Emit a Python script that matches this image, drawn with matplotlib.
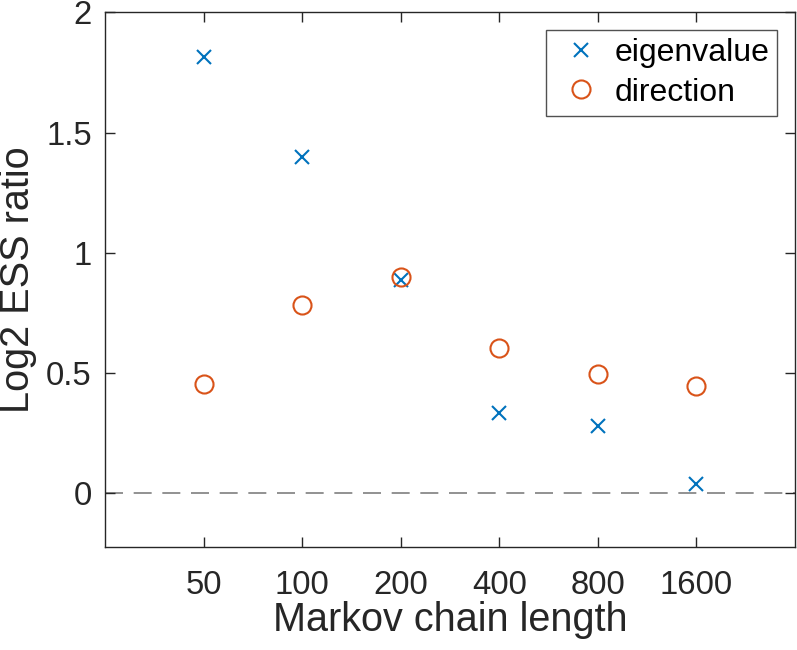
import matplotlib
matplotlib.use("Agg")
import matplotlib.pyplot as plt

plt.rcParams['font.family'] = ['Liberation Sans', 'DejaVu Sans']

chain_lengths = ["50", "100", "200", "400", "800", "1600"]
eigenvalue = [1.814, 1.398, 0.887, 0.334, 0.281, 0.039]
direction = [0.454, 0.783, 0.900, 0.604, 0.496, 0.447]

dark = "#262626"
pos = list(range(1, len(chain_lengths) + 1))

fig = plt.figure(figsize=(7.97, 6.5), dpi=100)
ax = fig.add_axes([0.1317, 0.159, 0.8658, 0.822])

ax.axhline(0, color="#7f7f7f", linestyle=(0, (10.8, 6.4)), linewidth=1.2, zorder=1)
ax.plot(pos, eigenvalue, linestyle="none", marker="x", markersize=10,
        markeredgewidth=1.5, color="#0072BD", label="eigenvalue", zorder=3)
ax.plot(pos, direction, linestyle="none", marker="o", markersize=13,
        markeredgewidth=1.5, markerfacecolor="none", color="#D95319",
        label="direction", zorder=3)

ax.set_xlim(0, 7)
ax.set_ylim(-0.222, 2)
ax.set_xticks(pos)
ax.set_xticklabels(chain_lengths)
ax.set_yticks([0, 0.5, 1, 1.5, 2])
ax.set_yticklabels(["0", "0.5", "1", "1.5", "2"])
ax.tick_params(direction="in", top=True, right=True, length=7, width=1,
               labelsize=23.7, colors=dark)
ax.tick_params(axis="x", pad=17)
ax.tick_params(axis="y", pad=9.5)
for s in ax.spines.values():
    s.set_color(dark)
    s.set_linewidth(1)

ax.set_xlabel("Markov chain length", fontsize=28.5, color=dark)
ax.set_ylabel("Log2 ESS ratio", fontsize=28.5, color=dark)
ax.xaxis.set_label_coords(0.5, -0.1016)
ax.yaxis.set_label_coords(-0.0985, 0.5)

leg = ax.legend(loc="upper right", bbox_to_anchor=(0.974, 0.967), fontsize=23,
                frameon=True, fancybox=False, edgecolor="#262626",
                borderaxespad=0, borderpad=0.25, handletextpad=0.2,
                labelspacing=0.3, handlelength=1.7)
leg.get_frame().set_linewidth(1)

fig.savefig("out.png", dpi=100)
